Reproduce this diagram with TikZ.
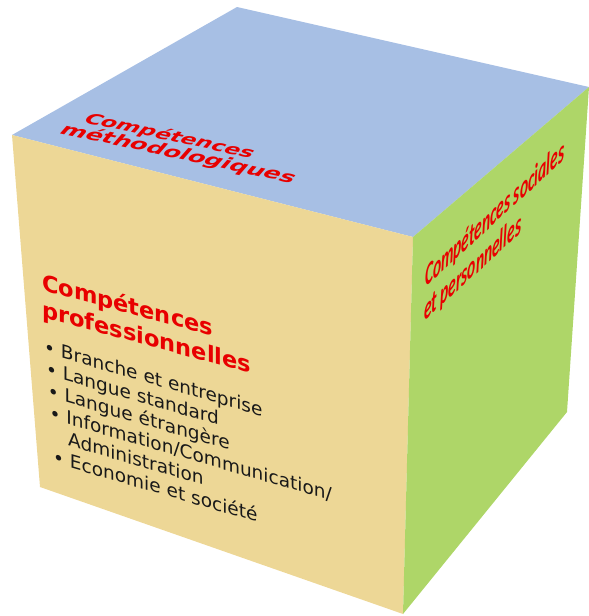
\documentclass[tikz,border=0pt]{standalone}
\usepackage{fontspec}
\usepackage{tikz}
\newfontfamily\dejavu{DejaVu Sans}
\newfontfamily\carlito{Carlito}
\definecolor{topblue}{RGB}{167,191,228}
\definecolor{lefttan}{RGB}{237,215,150}
\definecolor{rightgreen}{RGB}{174,214,104}
\definecolor{redtext}{RGB}{232,0,0}
\definecolor{listtext}{RGB}{25,25,25}

\begin{document}
\begin{tikzpicture}[x=1pt, y=1pt,
    toptext/.style = {text=redtext, font=\dejavu\bfseries\fontsize{20.5}{24}\selectfont, transform shape, cm={1.16,-0.25,0.6,0.68,(0,0)}, anchor=base west, inner sep=0pt},
    lefthead/.style = {text=redtext, font=\dejavu\bfseries\fontsize{22.5}{26}\selectfont, transform shape, yslant=-0.27, anchor=base west, inner sep=0pt},
    leftitem/.style = {text=listtext, font=\dejavu\fontsize{18.5}{22}\selectfont, transform shape, yslant=-0.29, anchor=base west, inner sep=0pt},
    sidetext/.style = {text=redtext, font=\carlito\bfseries\itshape\fontsize{31}{34}\selectfont, transform shape, cm={0.5,0.46,0,1,(0,0)}, anchor=base west, inner sep=0pt}]
    \useasboundingbox (0,0) rectangle (589,-616);

    % corners of the cube
    \coordinate (L) at (12,-135);
    \coordinate (B) at (237,-7);
    \coordinate (R) at (589,-87);
    \coordinate (F) at (413,-237);
    \coordinate (BL) at (40,-487);
    \coordinate (BF) at (403,-614);
    \coordinate (BR) at (567,-412);

    \fill[topblue] (L) -- (B) -- (R) -- (F) -- cycle;
    \fill[lefttan] (L) -- (F) -- (BF) -- (BL) -- cycle;
    \fill[rightgreen] (F) -- (R) -- (BR) -- (BF) -- cycle;

    % top face
    \node[toptext, scale=0.93] (top1) at (82,-122) {Compétences};
    \node[toptext] (top2) at (58,-133) {méthodologiques};

    % front face
    \node[lefthead] (head1) at (42,-290) {Compétences};
    \node[lefthead] (head2) at (42,-317) {professionnelles};
    \foreach \txt [count=\i from 0] in {• Branche et entreprise, • Langue standard, • Langue étrangère, • Information/Communication/, {\phantom{•} Administration}, • Economie et société}
        \node[leftitem] (item\i) at ({44+1.8*\i}, {-353-22*\i}) {\txt};

    % right face
    \node[sidetext] (side1) at (425,-288) {Compétences sociales};
    \node[sidetext] (side2) at (424,-322) {et personnelles};

\end{tikzpicture}
\end{document}
